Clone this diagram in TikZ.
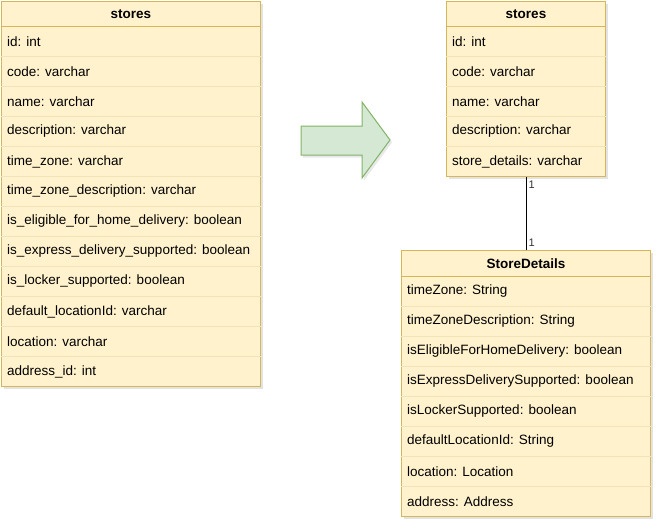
\documentclass[tikz,border=0pt]{standalone}
\usepackage{fontspec}
\setmainfont{Liberation Sans}
\usepackage{tikz}
\usetikzlibrary{shadows}

\definecolor{umlfill}{HTML}{FFF2CC}
\definecolor{umlline}{HTML}{D6B656}
\definecolor{rowline}{HTML}{F2E4BA}
\definecolor{arrowfill}{HTML}{D5E8D4}
\definecolor{arrowline}{HTML}{82B366}

\newcommand{\umlfont}{\fontsize{13.5pt}{16pt}\selectfont}

\tikzset{
  tbl/.style={draw=umlline, fill=umlfill, line width=1pt, anchor=north west,
    drop shadow={shadow xshift=2pt, shadow yshift=-2.5pt, fill=black!22}},
  hdr/.style={font=\umlfont\bfseries, inner sep=0pt},
  field/.style={font=\umlfont, anchor=west, inner sep=0pt},
  rowsep/.style={draw=rowline, line width=0.8pt},
  mult/.style={font=\fontsize{11pt}{13pt}\selectfont, text=black!80, inner sep=1pt}
}

\begin{document}
\begin{tikzpicture}
            \useasboundingbox (0pt,0pt) rectangle (662pt,-531pt);

            % old table
            \node[tbl, minimum width=259pt, minimum height=385pt] (stores) at (1pt,-1pt) {};
            \node[hdr] (stores-h) at ([yshift=-13pt]stores.north) {stores};
            \draw[umlline, line width=1pt] ([yshift=-25pt]stores.north west) -- ([yshift=-25pt]stores.north east);
            \foreach \i in {1,...,11}
                \draw[rowsep] ([yshift=-25pt-30pt*\i]stores.north west) -- ([yshift=-25pt-30pt*\i]stores.north east);
            \foreach \f [count=\i from 0] in {id: int, code: varchar, name: varchar, description: varchar,
                time\_zone: varchar, time\_zone\_description: varchar,
                is\_eligible\_for\_home\_delivery: boolean, is\_express\_delivery\_supported: boolean,
                is\_locker\_supported: boolean, default\_locationId: varchar,
                location: varchar, address\_id: int}
                \node[field] (stores-\i) at ([xshift=6pt,yshift=-40.5pt-30pt*\i]stores.north west) {\f};

            % arrow
            \draw[draw=arrowline, fill=arrowfill, line width=1pt, line join=miter,
                drop shadow={shadow xshift=2pt, shadow yshift=-2.5pt, fill=black!18}]
                (301pt,-126pt) -- (362pt,-126pt) -- (362pt,-102pt) -- (390pt,-140pt)
                -- (362pt,-178pt) -- (362pt,-155pt) -- (301pt,-155pt) -- cycle;

            % new table
            \node[tbl, minimum width=159pt, minimum height=175pt] (newstores) at (446pt,-1pt) {};
            \node[hdr] (newstores-h) at ([yshift=-13pt]newstores.north) {stores};
            \draw[umlline, line width=1pt] ([yshift=-25pt]newstores.north west) -- ([yshift=-25pt]newstores.north east);
            \foreach \i in {1,...,4}
                \draw[rowsep] ([yshift=-25pt-30pt*\i]newstores.north west) -- ([yshift=-25pt-30pt*\i]newstores.north east);
            \foreach \f [count=\i from 0] in {id: int, code: varchar, name: varchar, description: varchar,
                store\_details: varchar}
                \node[field] (newstores-\i) at ([xshift=6pt,yshift=-40.5pt-30pt*\i]newstores.north west) {\f};

            % details table
            \node[tbl, minimum width=249pt, minimum height=266pt] (details) at (401pt,-250pt) {};
            \node[hdr] (details-h) at ([yshift=-13.5pt]details.north) {StoreDetails};
            \draw[umlline, line width=1pt] ([yshift=-26pt]details.north west) -- ([yshift=-26pt]details.north east);
            \foreach \i in {1,...,7}
                \draw[rowsep] ([yshift=-26pt-30pt*\i]details.north west) -- ([yshift=-26pt-30pt*\i]details.north east);
            \foreach \f [count=\i from 0] in {timeZone: String, timeZoneDescription: String,
                isEligibleForHomeDelivery: boolean, isExpressDeliverySupported: boolean,
                isLockerSupported: boolean, defaultLocationId: String,
                location: Location, address: Address}
                \node[field] (details-\i) at ([xshift=6pt,yshift=-41.5pt-30pt*\i]details.north west) {\f};

            \draw[line width=1pt] (newstores.south) -- (details.north)
                node[mult, pos=0, anchor=north west, xshift=1pt, yshift=-2pt] {1}
                node[mult, pos=1, anchor=south west, xshift=1pt, yshift=2pt] {1};

            \end{tikzpicture}
\end{document}
